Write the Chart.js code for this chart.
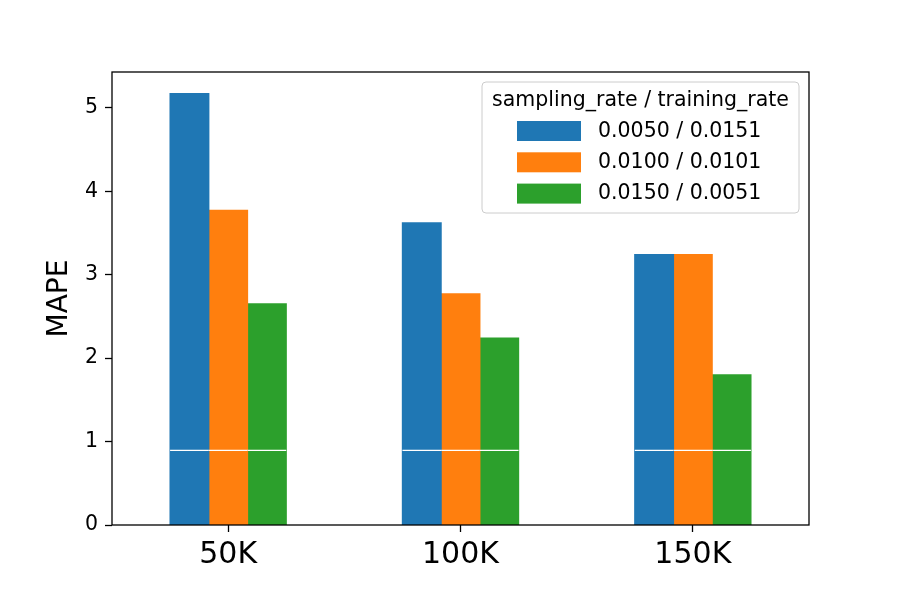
<!DOCTYPE html>
<html>
<head>
<meta charset="utf-8">
<script src="https://cdn.jsdelivr.net/npm/chart.js@4/dist/chart.umd.min.js"></script>
<style>
  html, body { margin: 0; padding: 0; background: #fff; }
  #wrap { width: 900px; height: 600px; position: relative; }
</style>
</head>
<body>
<div id="wrap"><canvas id="c" width="900" height="600"></canvas></div>
<script>
// ---- data ----
const categories = ["50K", "100K", "150K"];
const seriesLabels = ["0.0050 / 0.0151", "0.0100 / 0.0101", "0.0150 / 0.0051"];
const series1 = [5.17, 3.62, 3.24];
const series2 = [3.77, 2.77, 3.24];
const series3 = [2.65, 2.24, 1.80];
const yTickValues = [0, 1, 2, 3, 4, 5];
const legendTitle = "sampling_rate / training_rate";
const yAxisLabel = "MAPE";
const whiteLineValue = 0.895;

const colors = ["#1f77b4", "#ff7f0e", "#2ca02c"];
const FONT = "'DejaVu Sans', 'Liberation Sans', sans-serif";
const yMax = Math.max(...series1, ...series2, ...series3) * 1.05;

const whiteLinePlugin = {
  id: 'whiteLine',
  afterDatasetsDraw(chart) {
    const ctx = chart.ctx;
    const y = chart.scales.y.getPixelForValue(whiteLineValue);
    ctx.save();
    ctx.strokeStyle = '#ffffff';
    ctx.lineWidth = 1.2;
    chart.data.datasets.forEach((ds, i) => {
      const meta = chart.getDatasetMeta(i);
      meta.data.forEach(bar => {
        ctx.beginPath();
        ctx.moveTo(bar.x - bar.width / 2, y);
        ctx.lineTo(bar.x + bar.width / 2, y);
        ctx.stroke();
      });
    });
    ctx.restore();
  }
};

const framePlugin = {
  id: 'frame',
  afterDraw(chart) {
    const ctx = chart.ctx;
    const a = chart.chartArea;
    ctx.save();
    ctx.strokeStyle = '#000';
    ctx.lineWidth = 1.3;
    ctx.strokeRect(a.left, a.top, a.right - a.left, a.bottom - a.top);

    // y axis label
    ctx.fillStyle = '#000';
    ctx.font = '28px ' + FONT;
    ctx.textAlign = 'center';
    ctx.textBaseline = 'middle';
    ctx.translate(60, (a.top + a.bottom) / 2);
    ctx.rotate(-Math.PI / 2);
    ctx.fillText(yAxisLabel, 0, 0);
    ctx.restore();

    // legend
    ctx.save();
    const lx = 482, ly = 82, lw = 317, lh = 131, r = 4;
    ctx.beginPath();
    ctx.moveTo(lx + r, ly);
    ctx.lineTo(lx + lw - r, ly);
    ctx.quadraticCurveTo(lx + lw, ly, lx + lw, ly + r);
    ctx.lineTo(lx + lw, ly + lh - r);
    ctx.quadraticCurveTo(lx + lw, ly + lh, lx + lw - r, ly + lh);
    ctx.lineTo(lx + r, ly + lh);
    ctx.quadraticCurveTo(lx, ly + lh, lx, ly + lh - r);
    ctx.lineTo(lx, ly + r);
    ctx.quadraticCurveTo(lx, ly, lx + r, ly);
    ctx.closePath();
    ctx.fillStyle = 'rgba(255,255,255,0.8)';
    ctx.fill();
    ctx.strokeStyle = '#cccccc';
    ctx.lineWidth = 1;
    ctx.stroke();

    ctx.fillStyle = '#000';
    ctx.font = '20.5px ' + FONT;
    ctx.textAlign = 'center';
    ctx.textBaseline = 'middle';
    ctx.fillText(legendTitle, lx + lw / 2, 101);

    ctx.textAlign = 'left';
    chart.data.datasets.forEach((ds, i) => {
      const cy = 131 + i * 31.3;
      ctx.fillStyle = ds.backgroundColor;
      ctx.fillRect(517, cy - 10, 64, 20);
      ctx.fillStyle = '#000';
      ctx.fillText(ds.label, 598, cy + 0.5);
    });
    ctx.restore();
  }
};

new Chart(document.getElementById('c'), {
  type: 'bar',
  data: {
    labels: categories,
    datasets: [
      { label: seriesLabels[0], data: series1, backgroundColor: colors[0] },
      { label: seriesLabels[1], data: series2, backgroundColor: colors[1] },
      { label: seriesLabels[2], data: series3, backgroundColor: colors[2] }
    ]
  },
  options: {
    responsive: false,
    animation: false,
    devicePixelRatio: 1,
    layout: { padding: { left: 0, top: 72, right: 91, bottom: 0 } },
    plugins: { legend: { display: false }, tooltip: { enabled: false } },
    datasets: { bar: { categoryPercentage: 0.5, barPercentage: 1.0, borderWidth: 0, inflateAmount: 0.6 } },
    scales: {
      x: {
        offset: true,
        grid: { display: true, drawOnChartArea: false, drawTicks: true, tickLength: 7, tickColor: '#000', tickWidth: 1.3, offset: false },
        border: { display: false },
        ticks: { color: '#000', font: { family: FONT, size: 30 }, padding: 5, maxRotation: 0 },
        afterFit(scale) { scale.height = 75; }
      },
      y: {
        min: 0,
        max: yMax,
        grid: { display: true, drawOnChartArea: false, drawTicks: true, tickLength: 7, tickColor: '#000', tickWidth: 1.3 },
        border: { display: false },
        ticks: { color: '#000', font: { family: FONT, size: 20.5 }, padding: 7 },
        afterBuildTicks(scale) { scale.ticks = yTickValues.map(v => ({ value: v })); },
        afterFit(scale) { scale.width = 112; }
      }
    }
  },
  plugins: [whiteLinePlugin, framePlugin]
});
</script>
</body>
</html>
